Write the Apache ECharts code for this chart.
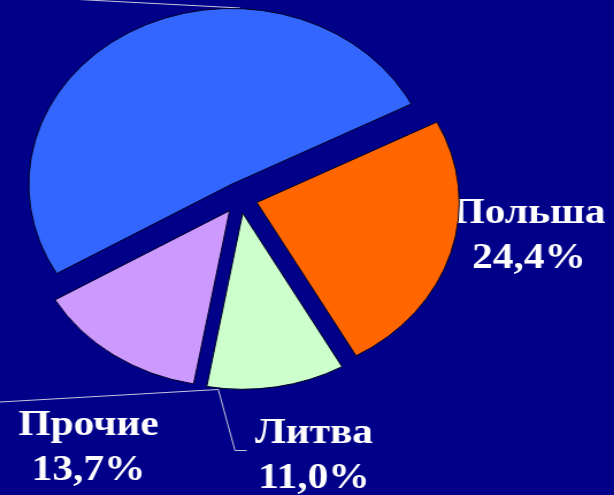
<!DOCTYPE html>
<html>
<head>
<meta charset="utf-8">
<script src="https://cdn.jsdelivr.net/npm/echarts@6/dist/echarts.min.js"></script>
<style>
  html, body { margin: 0; padding: 0; background: #000088; overflow: hidden; }
  #wrap { width: 614px; height: 495px; overflow: hidden; position: relative; }
  #chart { width: 534px; height: 495px; transform: scaleX(1.15); transform-origin: 0 0; }
</style>
</head>
<body>
<div id="wrap"><div id="chart"></div></div>
<script>
// Data
const categories = ['Польша', 'Литва', 'Прочие', 'Россия'];
const values = [24.4, 11.0, 13.7, 50.9];
const colors = ['#FF6600', '#CCFFCC', '#CC99FF', '#3366FF'];
const showLabel = [true, true, true, false];

// Label placement (chart pixel coords before the horizontal stretch)
const labelPos = [
  { x: 460, y: 236 },
  { x: 273, y: 456 },
  { x: 77, y: 448 }
];

const chart = echarts.init(document.getElementById('chart'), null, { renderer: 'canvas' });

const data = categories.map((name, i) => ({
  name: name,
  value: values[i],
  selected: true,
  itemStyle: { color: colors[i] }
}));

const fmt = v => v.toFixed(1).replace('.', ',') + '%';
const lineStyle = { stroke: '#c8c8dc', lineWidth: 1, fill: null };

const labelGraphics = categories
  .map((name, i) => showLabel[i] ? {
    type: 'text',
    x: labelPos[i].x,
    y: labelPos[i].y,
    silent: true,
    style: {
      text: name + '\n' + fmt(values[i]),
      fill: '#ffffff',
      fontFamily: 'Liberation Serif',
      fontWeight: 'bold',
      fontSize: 36,
      lineHeight: 45,
      align: 'center',
      verticalAlign: 'middle'
    }
  } : null)
  .filter(Boolean);

chart.setOption({
  backgroundColor: '#000088',
  animation: false,
  graphic: [
    { type: 'polyline', shape: { points: [[60, -1], [208.7, 8]] }, style: lineStyle, silent: true },
    { type: 'polyline', shape: { points: [[0, 402], [189.8, 389.5]] }, style: lineStyle, silent: true },
    { type: 'polyline', shape: { points: [[189.8, 389.5], [204.3, 450.5], [214.5, 450.5]] }, style: lineStyle, silent: true }
  ].concat(labelGraphics),
  series: [{
    type: 'pie',
    center: [208.5, 198],
    radius: 176,
    startAngle: 27.2,
    clockwise: true,
    selectedMode: 'multiple',
    selectedOffset: 15.5,
    avoidLabelOverlap: false,
    emphasis: { disabled: true },
    itemStyle: { borderColor: '#000022', borderWidth: 1 },
    label: { show: false },
    labelLine: { show: false },
    data: data
  }]
});
</script>
</body>
</html>
